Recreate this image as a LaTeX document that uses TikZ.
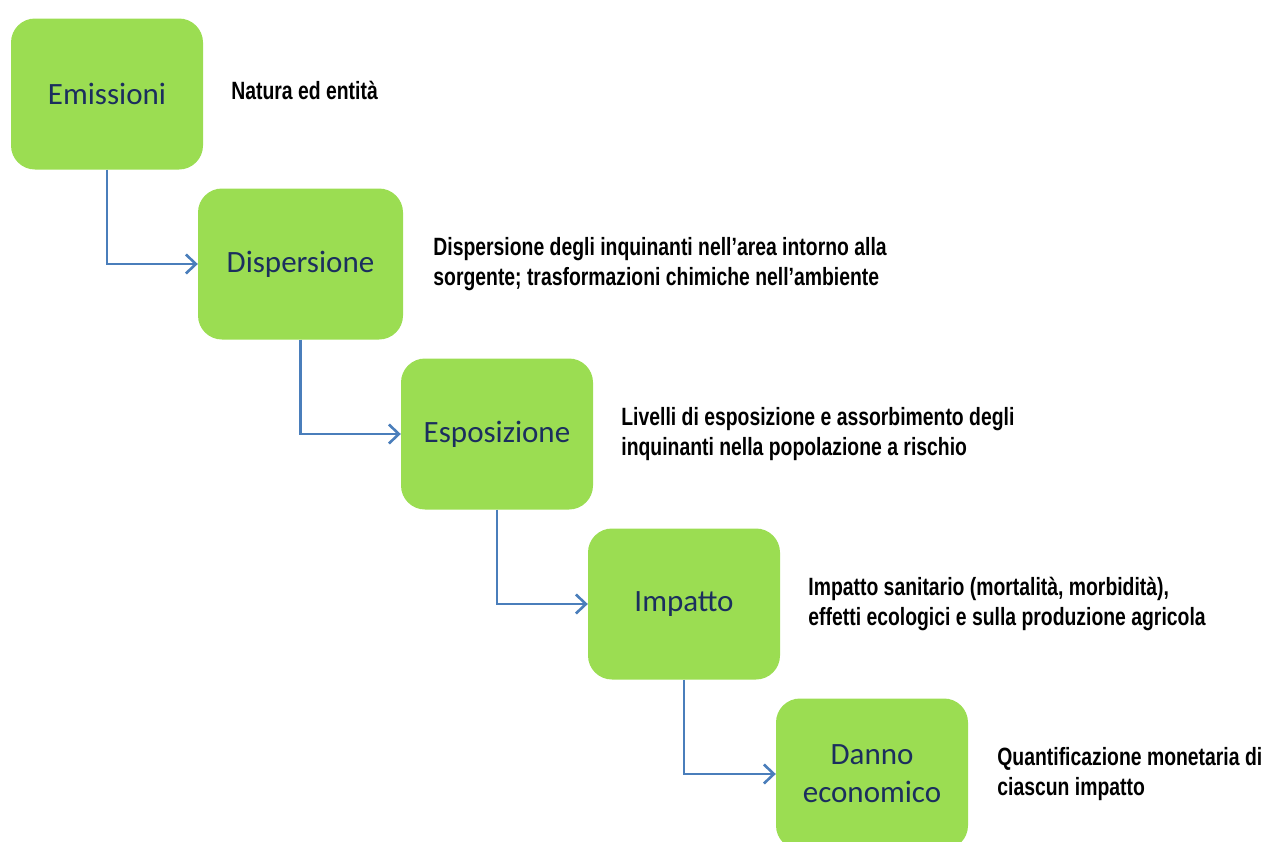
\documentclass[tikz,border=0pt]{standalone}
\usepackage{fontspec}
\newfontfamily\stagefont{Carlito}
\newfontfamily\notefont[FakeStretch=0.775]{Liberation Sans}
\usetikzlibrary{positioning,arrows.meta}
\definecolor{stagegreen}{HTML}{9BDD52}
\definecolor{stagetext}{HTML}{1B2E5E}
\definecolor{flowblue}{HTML}{4A7EBB}

\begin{document}
\begin{tikzpicture}[x=1pt, y=-1pt,
  stage/.style={rectangle, rounded corners=24pt, fill=stagegreen, minimum width=192pt, minimum height=151pt, inner sep=0pt, align=center, text=stagetext, font=\stagefont\fontsize{31}{38}\selectfont},
  note/.style={anchor=west, align=left, inner sep=0pt, font=\notefont\bfseries\fontsize{25}{29.5}\selectfont},
  flow/.style={draw=flowblue, line width=2.6pt, -{Straight Barb[length=10pt, width=19pt, line width=2.6pt]}}]
  \useasboundingbox (0,0) rectangle (1266,841);

  \node[stage] (emis) at (107,94) {Emissioni};
  \node[stage, minimum width=205pt] (disp) at (300.5,264) {Dispersione};
  \node[stage] (expo) at (497,434) {Esposizione};
  \node[stage] (imp) at (684,604) {Impatto};
  \node[stage] (dmg) at (872,774) {Danno\\economico};

  \node[note, right=28pt of emis, yshift=4pt] (emisnote) {Natura ed entità};
  \node[note, right=30pt of disp] (dispnote) {Dispersione degli inquinanti nell’area intorno alla\\sorgente; trasformazioni chimiche nell’ambiente};
  \node[note, right=28pt of expo] (exponote) {Livelli di esposizione e assorbimento degli\\inquinanti nella popolazione a rischio};
  \node[note, right=28pt of imp] (impnote) {Impatto sanitario (mortalità, morbidità),\\effetti ecologici e sulla produzione agricola};
  \node[note, right=29pt of dmg] (dmgnote) {Quantificazione monetaria di\\ciascun impatto};

  \draw[flow] (emis.south) |- (disp.west);
  \draw[flow] (disp.south) |- (expo.west);
  \draw[flow] (expo.south) |- (imp.west);
  \draw[flow] (imp.south) |- (dmg.west);
\end{tikzpicture}
\end{document}
